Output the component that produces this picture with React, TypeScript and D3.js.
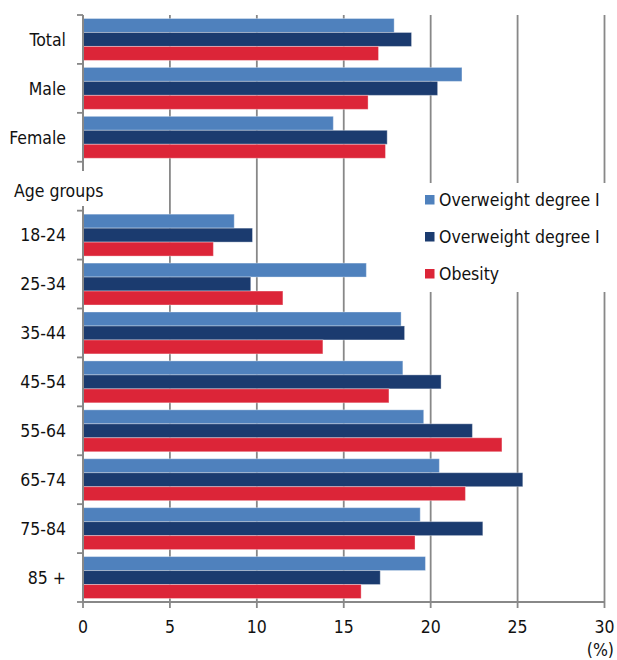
import React from "react";
import * as d3 from "d3";

const categories = ["Total", "Male", "Female", "__gap__", "18-24", "25-34", "35-44", "45-54", "55-64", "65-74", "75-84", "85 +"];
const legendLabels = ["Overweight degree I", "Overweight degree I", "Obesity"];
const seriesColors = ["#4F81BD", "#1B3B6F", "#DC2538"];
const overweight1 = [17.9, 21.8, 14.4, null, 8.7, 16.3, 18.3, 18.4, 19.6, 20.5, 19.4, 19.7];
const overweight2 = [18.9, 20.4, 17.5, null, 9.75, 9.65, 18.5, 20.6, 22.4, 25.3, 23.0, 17.1];
const obesity = [17.0, 16.4, 17.4, null, 7.5, 11.5, 13.8, 17.6, 24.1, 22.0, 19.1, 16.0];
const xTicks = [0, 5, 10, 15, 20, 25, 30];
const groupLabel = "Age groups";
const unitLabel = "(%)";

const W = 617;
const H = 660;
const FONT = "'DejaVu Sans Condensed', 'DejaVu Sans', sans-serif";
const FS = 17.5;

export default function App() {
  const x = d3.scaleLinear().domain([0, 30]).range([83, 604.5]);
  const y = d3.scaleBand<string>().domain(categories).range([15, 602]).padding(0);
  const inner = d3.scaleBand<number>().domain([0, 1, 2]).range([0, y.bandwidth()]).paddingInner(0).paddingOuter(0.25);
  const data = [overweight1, overweight2, obesity];
  const gridColor = "#888888";
  const axisTop = 15;
  const axisBottom = 602;

  return (
    <svg width={W} height={H} style={{ position: "absolute", left: 0, top: 0, background: "#fff" }} fontFamily={FONT} fontStretch="condensed">
      <rect x={0} y={0} width={W} height={H} fill="#fff" />
      {xTicks.filter((t) => t > 0).map((t) => (
        <line key={"g" + t} x1={x(t)} x2={x(t)} y1={axisTop} y2={axisBottom} stroke={gridColor} strokeWidth={1.8} />
      ))}
      {categories.map((c, ci) =>
        data.map((arr, si) => {
          const v = arr[ci];
          if (v == null) return null;
          const y0 = (y(c) as number) + (inner(si) as number);
          return (
            <rect
              key={c + si}
              x={x(0)}
              y={y0}
              width={x(v) - x(0)}
              height={inner.bandwidth()}
              fill={seriesColors[si]}
              stroke="rgba(255,255,255,0.35)"
              strokeWidth={1}
            />
          );
        })
      )}
      <line x1={x(0)} x2={x(0)} y1={axisTop} y2={axisBottom} stroke={gridColor} strokeWidth={2} />
      {categories.concat(["__end__"]).map((c, i) => {
        const yy = axisTop + i * y.step();
        return <line key={"yt" + i} x1={x(0) - 6} x2={x(0)} y1={yy} y2={yy} stroke={gridColor} strokeWidth={1.8} />;
      })}
      <line x1={x(0)} x2={x(30)} y1={axisBottom} y2={axisBottom} stroke={gridColor} strokeWidth={2} />
      {xTicks.map((t) => (
        <g key={"xt" + t}>
          <line x1={x(t)} x2={x(t)} y1={axisBottom} y2={axisBottom + 6} stroke={gridColor} strokeWidth={1.8} />
          <text x={x(t)} y={633} textAnchor="middle" fontSize={FS} fill="#111">{t}</text>
        </g>
      ))}
      <text x={614} y={656} textAnchor="end" fontSize={FS} fill="#111">{unitLabel}</text>
      {categories.map((c) =>
        c === "__gap__" ? null : (
          <text key={"l" + c} x={66} y={(y(c) as number) + y.bandwidth() / 2} dy="0.36em" textAnchor="end" fontSize={FS} fill="#111">
            {c}
          </text>
        )
      )}
      <rect x={10} y={171} width={98} height={35} fill="#fff" />
      <text x={14} y={197} fontSize={FS} fill="#111">{groupLabel}</text>
      <rect x={418} y={183} width={196} height={109} fill="#fff" />
      {legendLabels.map((l, i) => (
        <g key={"lg" + i} transform={`translate(425, ${200 + i * 37})`}>
          <rect x={0} y={-5} width={9.5} height={9.5} fill={seriesColors[i]} />
          <text x={14} y={0} dy="0.36em" fontSize={FS} fill="#111">{l}</text>
        </g>
      ))}
    </svg>
  );
}
